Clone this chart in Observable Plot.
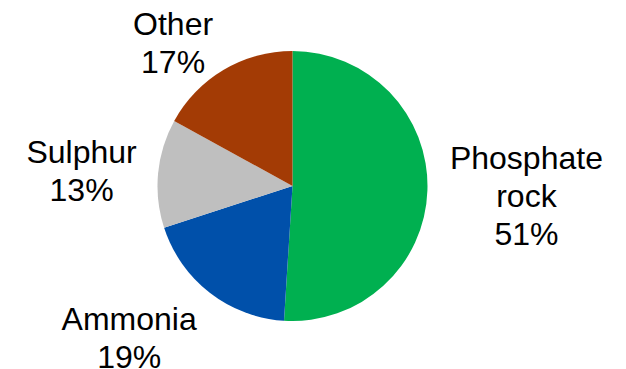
<!DOCTYPE html>
<html>
<head>
<meta charset="utf-8">
<script src="https://cdn.jsdelivr.net/npm/d3@7"></script>
<script src="https://cdn.jsdelivr.net/npm/@observablehq/plot@0.6"></script>
<style>
  html, body { margin: 0; padding: 0; background: #fff; }
  #chart svg { display: block; }
</style>
</head>
<body>
<div id="chart"></div>
<script>
// ---- data ----
const categories = ["Phosphate rock", "Ammonia", "Sulphur", "Other"];
const shares = [51, 19, 13, 17];
const labelNames = ["Phosphate\nrock", "Ammonia", "Sulphur", "Other"];
const colors = ["#00B050", "#0050AA", "#BFBFBF", "#A33B05"];

// ---- layout ----
const W = 626, H = 369;
const FONT = "Liberation Sans, Arial, sans-serif";
const FS = 32, LH = 1.1875;
const xOpt = {domain: [-1, 1], range: [157.5, 427.5]};
const yOpt = {domain: [-1, 1], range: [321, 51]};
const xs = Plot.scale({x: xOpt});
const ys = Plot.scale({y: yOpt});
const cx = xs.apply(0), cy = ys.apply(0), R = xs.apply(1) - xs.apply(0);

const data = categories.map((c, i) => ({category: c, share: shares[i], text: `${labelNames[i]}\n${shares[i]}%`}));
const arcs = d3.pie().sort(null).value(d => d.share)(data);

// label placement (outside end, Excel-like), clamped inside the frame
const ctx = document.createElement("canvas").getContext("2d");
ctx.font = `${FS}px ${FONT}`;
const gap = 22, padTop = 10, padBottom = 4;
const capH = 0.716 * FS, lineStep = FS * LH;
const labelData = arcs.map(a => {
  const lines = a.data.text.split("\n");
  const w = d3.max(lines, l => ctx.measureText(l).width);
  const h = lines.length * lineStep;
  const th = (a.startAngle + a.endAngle) / 2;
  const s = Math.sin(th), c = -Math.cos(th);
  const px = cx + (R + gap) * s, py = cy + (R + gap) * c;
  let bx = px + Math.sign(s) * w / 2;
  let by = py + c * h / 2;
  const vis = capH + (lines.length - 1) * lineStep;
  if (by - vis / 2 < padTop) by = padTop + vis / 2;
  if (by + vis / 2 > H - padBottom) by = H - padBottom - vis / 2;
  return {text: a.data.text, category: a.data.category, x: xs.invert(bx), y: ys.invert(by + 1.3)};
});

function pieMark(index, scales) {
  const x0 = scales.x(0), y0 = scales.y(0), r = Math.abs(scales.x(1) - scales.x(0));
  const arc = d3.arc().innerRadius(0).outerRadius(r);
  const g = d3.create("svg:g").attr("transform", `translate(${x0},${y0})`);
  g.selectAll("path").data(arcs).join("path")
    .attr("d", arc)
    .attr("fill", d => scales.color(d.data.category));
  return g.node();
}

const chart = Plot.plot({
  width: W,
  height: H,
  margin: 0,
  x: {...xOpt, axis: null},
  y: {...yOpt, axis: null},
  color: {domain: categories, range: colors},
  style: {fontFamily: FONT, background: "#fff"},
  marks: [
    Plot.dot(data, {x: () => 0, y: () => 0, fill: "category", r: 0}),
    pieMark,
    Plot.text(labelData, {
      x: "x", y: "y", text: "text",
      fontSize: FS, lineHeight: LH, fill: "#000",
      textAnchor: "middle", lineAnchor: "middle", fontFamily: FONT
    })
  ]
});
document.getElementById("chart").appendChild(chart);
</script>
</body>
</html>
